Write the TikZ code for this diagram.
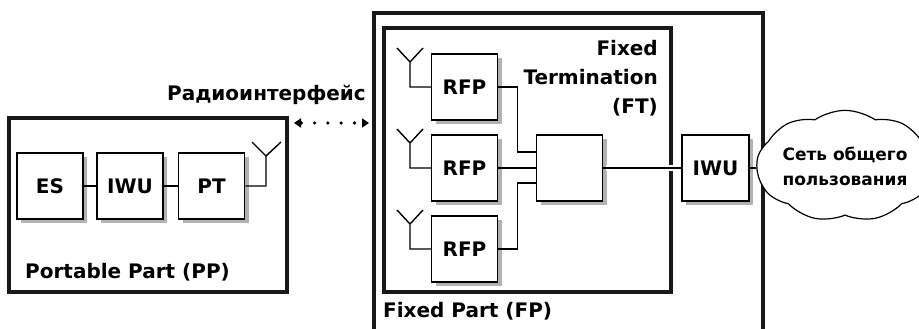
\documentclass[tikz,border=0pt]{standalone}
\usepackage{fontspec}
\setmainfont{DejaVu Sans}
\usetikzlibrary{shadows,shapes.symbols,arrows.meta}

\begin{document}
\begin{tikzpicture}[x=1pt,y=-1pt,
  font=\bfseries\fontsize{20}{29}\selectfont,
  unit/.style={draw,line width=1.5pt,fill=white,minimum width=66pt,minimum height=66pt,inner sep=0pt,
    drop shadow={shadow xshift=4pt,shadow yshift=-4pt,fill=black!30,opacity=1}},
  part/.style={draw=black!90,line width=3.2pt},
  wire/.style={line width=1.4pt},
  gap/.style={preaction={draw=white,line width=6pt,shorten <=3pt,shorten >=3pt}}]
  \useasboundingbox (0,0) rectangle (919,329);
  \fill[white] (0,0) rectangle (919,329);
  \clip (0,0) rectangle (919,329);
  % the three frames
  \draw[part] (9,118) rectangle (287,292);
  \draw[part] (374,13) rectangle (763,345);
  \draw[part] (384,28) rectangle (671,292);
  \node[anchor=west,inner sep=0pt] (pplabel) at (25,272) {Portable Part (PP)};
  \node[anchor=west,inner sep=0pt] (fplabel) at (383,311) {Fixed Part (FP)};
  \node[anchor=east,align=right,inner sep=0pt] (ftlabel) at (658,78) {Fixed\\Termination\\(FT)};
  % portable part
  \node[unit] (es) at (50,186) {ES};
  \node[unit] (iwu) at (130,186) {IWU};
  \node[unit] (pt) at (211.5,186) {PT};
  \draw[wire] (es) -- (iwu);
  \draw[wire] (iwu) -- (pt);
  \coordinate (ptant) at (266,156);
  \draw[wire] (pt.east) -| (ptant) -- ++(-14,-14) (ptant) -- ++(15,-14);
  % radio interface
  \node[anchor=east,inner sep=0pt] (radio) at (366,95) {Радиоинтерфейс};
  \coordinate (rl) at (294,123);
  \coordinate (rr) at (369,123);
  \draw[line width=3.6pt,line cap=round,dash pattern=on 0pt off 13.3pt,dash phase=-14pt,
    {Triangle[length=7pt,width=9pt]}-{Triangle[length=7pt,width=9pt]}] (rl) -- (rr);
  % fixed part
  \node[unit] (mux) at (569.5,168) {};
  \foreach \i/\y in {1/87,2/168,3/249} {
    \node[unit] (rfp\i) at (464.5,\y) {RFP};
    \coordinate (ant\i) at (410,\y-25);
    \draw[wire] (rfp\i.west) -| (ant\i) -- ++(-13,-14) (ant\i) -- ++(13,-14);
  }
  \draw[wire] (rfp1.east) -- ++(19,0) |- ([yshift=16pt]mux.west);
  \draw[wire] (rfp2.east) -- (mux.west);
  \draw[wire] (rfp3.east) -- ++(19,0) |- ([yshift=-15pt]mux.west);
  \node[unit,minimum width=67pt] (iwu2) at (715.5,168) {IWU};
  \node[cloud,draw,line width=1.2pt,fill=white,cloud puffs=9,cloud puff arc=70,aspect=1.8,
    minimum width=150pt,minimum height=86pt,inner sep=0pt,align=center,
    font=\bfseries\fontsize{17}{25}\selectfont] (net) at (845,166) {Сеть общего\\пользования};
  \draw[wire,gap] (mux) -- (iwu2);
  \draw[wire,gap] (iwu2.east) -- (net.west |- iwu2.east);
\end{tikzpicture}
\end{document}
